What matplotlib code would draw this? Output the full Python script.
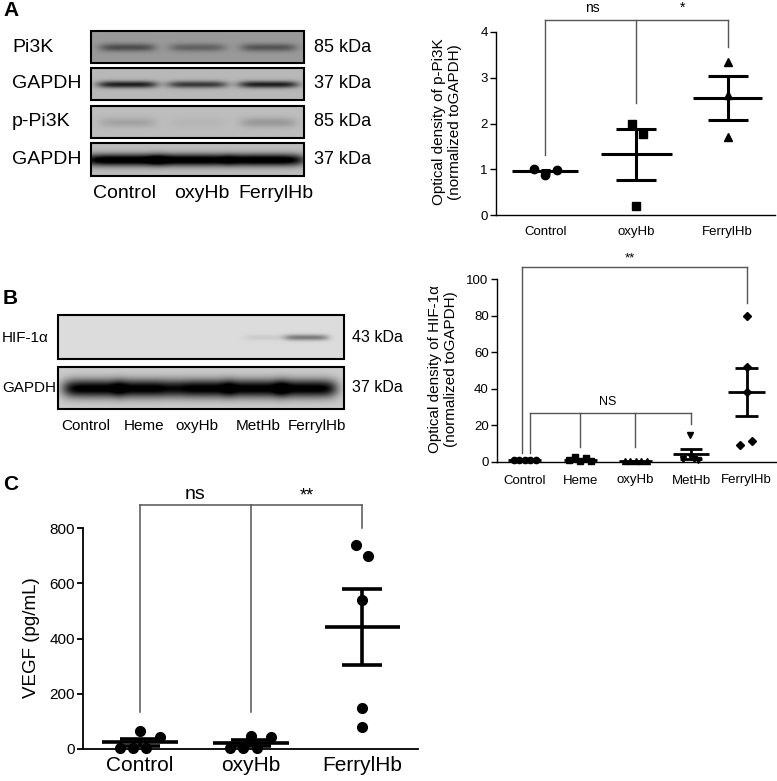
import numpy as np
import matplotlib
matplotlib.use("Agg")
import matplotlib.pyplot as plt
from matplotlib.patches import Rectangle

plt.rcParams['font.family'] = ['Liberation Sans', 'DejaVu Sans']

W, H = 777, 781

# --- panel A: p-Pi3K densitometry
a_groups = ['Control', 'oxyHb', 'FerrylHb']
a_control = [1.0, 0.88, 0.98]
a_oxyhb = [2.0, 1.77, 0.2]
a_ferryl = [3.35, 2.62, 1.71]

# --- panel B: HIF-1a densitometry
b_groups = ['Control', 'Heme', 'oxyHb', 'MetHb', 'FerrylHb']
b_control = [1.0, 1.0, 1.0, 1.0, 1.0]
b_heme = [1.0, 2.8, 0.3, 2.2, 0.5]
b_oxyhb = [0.3, 0.3, 0.3, 0.3, 0.3]
b_methb = [15.0, 1.5, 2.5, 1.0, 1.5]
b_ferryl = [80.0, 52.0, 38.0, 9.5, 11.5]

# --- panel C: VEGF
c_groups = ['Control', 'oxyHb', 'FerrylHb']
c_control = [65, 45, 4, 3, 4]
c_oxyhb = [48, 42, 5, 5, 5]
c_ferryl = [740, 700, 540, 150, 80]

# --- blot band strengths per lane (how dark each band is)
blot_a_pi3k = [0.30, 0.22, 0.27]
blot_a_gapdh1 = [0.60, 0.50, 0.60]
blot_a_ppi3k = [0.10, 0.03, 0.14]
blot_a_gapdh2 = [0.85, 0.85, 0.85]
blot_b_hif = [0.0, 0.0, 0.0, 0.06, 0.38]
blot_b_gapdh = [0.85, 0.85, 0.85, 0.85, 0.85]

fig = plt.figure(figsize=(W / 100, H / 100), dpi=100)

# full-figure canvas in pixel coordinates for blots and free text
cv = fig.add_axes([0, 0, 1, 1])
cv.set_axis_off()


def px_axes(x0, y0, x1, y1):
    return fig.add_axes([x0 / W, 1 - y1 / H, (x1 - x0) / W, (y1 - y0) / H])


def blot(x0, y0, x1, y1, bg, lanes, levels, hw, bh, yc=0.5):
    w, h = int(x1 - x0), int(y1 - y0)
    xx = np.arange(w) + x0
    yy = np.arange(h) + y0
    img = np.full((h, w), bg)
    ymid = y0 + yc * (y1 - y0)
    for cx, lv in zip(lanes, levels):
        px = np.exp(-np.abs((xx - cx) / hw) ** 5)
        py = np.exp(-((yy - ymid) / bh) ** 2)
        img -= lv * np.outer(py, px)
    cv.imshow(np.clip(img, 0, 1), cmap='gray', vmin=0, vmax=1,
              extent=(x0, x1, y1, y0), aspect='auto', interpolation='bilinear')
    cv.add_patch(Rectangle((x0, y0), x1 - x0, y1 - y0, fill=False, lw=1.5, ec='black'))


# blots of panel A
lanes_a = [127, 197, 268]
blot(91, 31, 304, 63, 0.60, lanes_a, blot_a_pi3k, 28, 4)
blot(91, 68, 304, 100, 0.72, lanes_a, blot_a_gapdh1, 30, 3.5)
blot(91, 106, 304, 138, 0.74, lanes_a, blot_a_ppi3k, 28, 5)
blot(91, 143, 304, 176, 0.74, [122, 192, 265], blot_a_gapdh2, 40, 6)

for txt, y in zip(['Pi3K', 'GAPDH', 'p-Pi3K', 'GAPDH'], [47, 84, 122, 160]):
    cv.text(12, y, txt, fontsize=14, ha='left', va='center')
for txt, y in zip(['85 kDa', '37 kDa', '85 kDa', '37 kDa'], [47, 84, 122, 160]):
    cv.text(314, y, txt, fontsize=13, ha='left', va='center')
for txt, x in zip(a_groups, [125, 202, 276]):
    cv.text(x, 194, txt, fontsize=14, ha='center', va='center')

# blots of panel B
lanes_b = [92, 145, 202, 255, 307]
blot(58, 315, 344, 359, 0.86, [265, 306], blot_b_hif[3:], 22, 3)
blot(58, 367, 344, 409, 0.80, lanes_b, blot_b_gapdh, 30, 9)
cv.text(2, 338, 'HIF-1α', fontsize=11, ha='left', va='center')
cv.text(2, 388, 'GAPDH', fontsize=11, ha='left', va='center')
cv.text(352, 338, '43 kDa', fontsize=11.5, ha='left', va='center')
cv.text(352, 388, '37 kDa', fontsize=11.5, ha='left', va='center')
for txt, x in zip(b_groups, [86, 144, 197, 258, 317]):
    cv.text(x, 426, txt, fontsize=11, ha='center', va='center')

# panel letters
cv.text(3, 10, 'A', fontsize=15, fontweight='bold', ha='left', va='center')
cv.text(3, 298, 'B', fontsize=15, fontweight='bold', ha='left', va='center')
cv.text(3, 485, 'C', fontsize=15, fontweight='bold', ha='left', va='center')

# y labels
cv.text(447, 122, 'Optical density of p-Pi3K\n(normalized toGAPDH)', fontsize=11,
        rotation=90, ha='center', va='center', linespacing=1.25)
cv.text(443, 369, 'Optical density of HIF-1α\n(normalized toGAPDH)', fontsize=11,
        rotation=90, ha='center', va='center', linespacing=1.25)
cv.text(32, 638, 'VEGF (pg/mL)', fontsize=13.5, rotation=90, ha='center', va='center')

cv.set_xlim(0, W)
cv.set_ylim(H, 0)


def group(ax, x, vals, offs, marker, ms, mean_hw, cap_hw, lw):
    vals = np.asarray(vals, dtype=float)
    ax.plot(x + np.asarray(offs), vals, ls='none', marker=marker, color='black',
            ms=ms, zorder=4, clip_on=False)
    m = vals.mean()
    s = vals.std(ddof=1) / np.sqrt(len(vals))
    ax.hlines(m, x - mean_hw, x + mean_hw, color='black', lw=lw, zorder=3)
    ax.hlines([m - s, m + s], x - cap_hw, x + cap_hw, color='black', lw=lw, zorder=3)
    ax.vlines(x, m - s, m + s, color='black', lw=lw, zorder=3)


def bracket(ax, x_left, x_right, top, drops, lw=1.0, color='#555555'):
    ax.plot([x_left, x_right], [top, top], color=color, lw=lw, clip_on=False)
    for x, y in drops:
        ax.plot([x, x], [y, top], color=color, lw=lw, clip_on=False)


def style(ax, fs, lw):
    for sp in ['top', 'right']:
        ax.spines[sp].set_visible(False)
    for sp in ['left', 'bottom']:
        ax.spines[sp].set_linewidth(lw)
    ax.tick_params(axis='y', labelsize=fs, length=4, width=lw, pad=2)
    ax.tick_params(axis='x', length=0, labelsize=fs)
    ax.patch.set_alpha(0)


# chart A
axa = px_axes(496, 32, 775, 215)
style(axa, 9.5, 1.0)
group(axa, 0, a_control, [-0.12, 0.0, 0.13], 'o', 6, 0.36, 0.05, 2.2)
group(axa, 1, a_oxyhb, [-0.05, 0.07, 0.0], 's', 6, 0.39, 0.22, 2.2)
group(axa, 2, a_ferryl, [0, 0, 0], '^', 6, 0.38, 0.22, 2.2)
bracket(axa, 0, 2, 4.26, [(0, 1.31), (1, 2.45), (2, 3.67)])
axa.text(0.52, 4.52, 'ns', fontsize=10, ha='center', va='center', clip_on=False)
axa.text(1.51, 4.52, '*', fontsize=10, ha='center', va='center', clip_on=False)
axa.set_xlim(-0.54, 2.52)
axa.set_ylim(0, 4)
axa.set_yticks([0, 1, 2, 3, 4])
axa.set_xticks(range(3))
axa.set_xticklabels(a_groups)
axa.tick_params(axis='x', pad=8)

# chart B
axb = px_axes(497, 279, 777, 462)
style(axb, 9.5, 1.0)
group(axb, 0, b_control, [-0.2, -0.1, 0, 0.1, 0.2], 'o', 4.5, 0.3, 0.1, 2.0)
group(axb, 1, b_heme, [-0.2, -0.1, 0.0, 0.1, 0.2], 's', 5, 0.3, 0.1, 2.0)
group(axb, 2, b_oxyhb, [-0.2, -0.1, 0, 0.1, 0.2], '^', 4.5, 0.3, 0.1, 2.0)
group(axb, 3, b_methb, [-0.02, -0.15, 0.0, 0.13, 0.05], 'v', 5, 0.33, 0.2, 2.0)
group(axb, 4, b_ferryl, [0, 0, 0, -0.12, 0.1], 'D', 4.5, 0.34, 0.2, 2.0)
bracket(axb, -0.05, 4.0, 106.5, [(-0.05, 5), (4.0, 87)])
bracket(axb, 0.1, 3.0, 27, [(0.1, 5), (1.0, 8), (1.98, 8), (3.0, 21)])
axb.text(1.9, 111.5, '**', fontsize=9.5, ha='center', va='center', clip_on=False)
axb.text(1.5, 33, 'NS', fontsize=9, ha='center', va='center', clip_on=False)
axb.set_xlim(-0.5, 4.55)
axb.set_ylim(0, 100)
axb.set_yticks([0, 20, 40, 60, 80, 100])
axb.set_xticks(range(5))
axb.set_xticklabels(b_groups)
axb.tick_params(axis='x', pad=9)

# chart C
axc = px_axes(83, 528, 418, 749)
style(axc, 11, 1.3)
group(axc, 0, c_control, [0.0, 0.18, -0.18, -0.06, 0.06], 'o', 7, 0.34, 0.18, 2.6)
group(axc, 1, c_oxyhb, [0.0, 0.18, -0.19, -0.07, 0.05], 'o', 7, 0.34, 0.18, 2.6)
group(axc, 2, c_ferryl, [-0.06, 0.05, 0, 0, 0], 'o', 7, 0.34, 0.18, 2.6)
bracket(axc, 0, 2, 885, [(0, 133), (1, 133), (2, 800)], lw=1.1)
axc.text(0.5, 920, 'ns', fontsize=14, ha='center', va='center', clip_on=False)
axc.text(1.5, 915, '**', fontsize=13, ha='center', va='center', clip_on=False)
axc.set_xlim(-0.51, 2.5)
axc.set_ylim(0, 800)
axc.set_yticks([0, 200, 400, 600, 800])
axc.set_xticks(range(3))
axc.set_xticklabels(c_groups)
axc.tick_params(axis='x', labelsize=15, pad=5)

fig.savefig('out.png', dpi=100)
